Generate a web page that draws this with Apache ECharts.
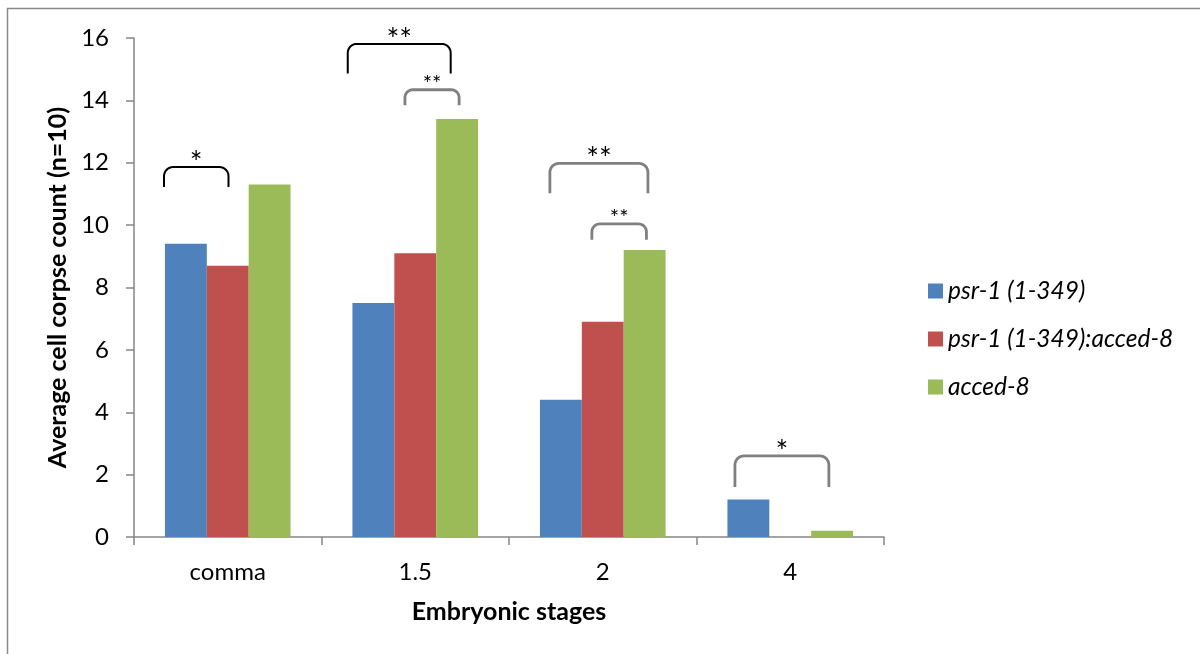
<!DOCTYPE html>
<html>
<head>
<meta charset="utf-8">
<script src="https://cdn.jsdelivr.net/npm/echarts@6/dist/echarts.min.js"></script>
<style>html,body{margin:0;padding:0;background:#fff}#chart{width:1200px;height:654px}</style>
</head>
<body>
<div id="chart"></div>
<script>
// ---- data ----
const categories = ['comma', '1.5', '2', '4'];
const seriesNames = ['psr-1 (1-349)', 'psr-1 (1-349):acced-8', 'acced-8'];
const psr1 = [9.4, 7.5, 4.4, 1.2];
const psr1Acced8 = [8.7, 9.1, 6.9, 0];
const acced8 = [11.3, 13.4, 9.2, 0.2];
const yTicks = [0, 2, 4, 6, 8, 10, 12, 14, 16];
// significance brackets: category, left/right ends as fraction of band from its center,
// top level and leg-end level in data units
const bracketCat   = [0, 1, 1, 2, 2, 3];
const bracketLeft  = [-0.340, -0.360, -0.055, -0.282, -0.058, -0.295];
const bracketRight = [0.004, 0.189, 0.234, 0.241, 0.233, 0.206];
const bracketTop   = [11.86, 15.81, 14.34, 11.98, 10.04, 2.60];
const bracketEnd   = [11.22, 14.86, 13.84, 11.02, 9.53, 1.60];
const bracketStars = ['*', '**', '**', '**', '**', '*'];
const bracketDark  = [true, true, false, false, false, false];
const bracketSmall = [false, false, true, false, true, false];

const colors = ['#4F81BD', '#C0504D', '#9BBB59'];
const FONT = 'Lato, "Open Sans", "Noto Sans", sans-serif';

const chart = echarts.init(document.getElementById('chart'), null, {renderer: 'canvas'});

function renderBracket(params, api) {
  const i = params.dataIndex;
  const c = api.coord([bracketCat[i], 0]);
  const bw = api.size([1, 0])[0];
  const x1 = c[0] + bracketLeft[i] * bw;
  const x2 = c[0] + bracketRight[i] * bw;
  const yt = api.coord([bracketCat[i], bracketTop[i]])[1];
  const yb = api.coord([bracketCat[i], bracketEnd[i]])[1];
  const r = Math.min(9, (yb - yt) * 0.5);
  const pts = [[x1, yb]];
  for (let k = 0; k <= 8; k++) {
    const a = Math.PI - (Math.PI / 2) * (k / 8);
    pts.push([x1 + r + r * Math.cos(a), yt + r - r * Math.sin(a)]);
  }
  for (let k = 0; k <= 8; k++) {
    const a = Math.PI / 2 - (Math.PI / 2) * (k / 8);
    pts.push([x2 - r + r * Math.cos(a), yt + r - r * Math.sin(a)]);
  }
  pts.push([x2, yb]);
  const small = bracketSmall[i];
  return {
    type: 'group',
    children: [
      {type: 'polyline', shape: {points: pts},
       style: {stroke: bracketDark[i] ? '#000' : '#808080', lineWidth: bracketDark[i] ? 2 : 2.8, fill: null}},
      {type: 'text', x: (x1 + x2) / 2, y: yt - (small ? 6 : 4),
       style: {text: bracketStars[i], fill: '#000', align: 'center', verticalAlign: 'middle',
               font: (small ? '22px ' : '30px ') + FONT}}
    ]
  };
}

const option = {
  animation: false,
  backgroundColor: '#fff',
  color: colors,
  textStyle: {fontFamily: FONT},
  grid: {left: 134, right: 316, top: 38, bottom: 117, containLabel: false},
  legend: {
    data: seriesNames,
    orient: 'vertical', left: 923, top: 272,
    icon: 'rect', itemWidth: 15, itemHeight: 15, itemGap: 20,
    textStyle: {fontSize: 24.5, fontStyle: 'italic', color: '#000', fontFamily: FONT, lineHeight: 28}
  },
  xAxis: {
    type: 'category', data: categories,
    name: 'Embryonic stages', nameLocation: 'middle', nameGap: 62,
    nameTextStyle: {fontSize: 25, fontWeight: 'bold', color: '#000', fontFamily: FONT},
    axisLine: {lineStyle: {color: '#868686', width: 1.5}},
    axisTick: {show: true, length: 8, lineStyle: {color: '#868686', width: 1.5}},
    axisLabel: {fontSize: 24, color: '#000', margin: 23, fontFamily: FONT}
  },
  yAxis: {
    type: 'value', min: yTicks[0], max: yTicks[yTicks.length - 1], interval: yTicks[1] - yTicks[0],
    name: 'Average cell corpse count (n=10)', nameLocation: 'middle', nameGap: 64,
    nameTextStyle: {fontSize: 25, fontWeight: 'bold', color: '#000', fontFamily: FONT},
    axisLine: {show: true, lineStyle: {color: '#868686', width: 1.5}},
    axisTick: {show: true, length: 8, lineStyle: {color: '#868686', width: 1.5}},
    splitLine: {show: false},
    axisLabel: {fontSize: 24, color: '#000', margin: 25, fontFamily: FONT}
  },
  graphic: [
    {type: 'rect', shape: {x: 7.5, y: 8.5, width: 1300, height: 800},
     style: {fill: null, stroke: '#8a8a8a', lineWidth: 1.5}, silent: true}
  ],
  series: [
    {name: seriesNames[0], type: 'bar', data: psr1, barGap: '0%', barCategoryGap: '33%'},
    {name: seriesNames[1], type: 'bar', data: psr1Acced8, barGap: '0%', barCategoryGap: '33%'},
    {name: seriesNames[2], type: 'bar', data: acced8, barGap: '0%', barCategoryGap: '33%'},
    {name: 'brackets', type: 'custom', renderItem: renderBracket,
     data: bracketCat.map((c, i) => [c, bracketTop[i]]), z: 5, silent: true}
  ]
};
chart.setOption(option);
</script>
</body>
</html>
